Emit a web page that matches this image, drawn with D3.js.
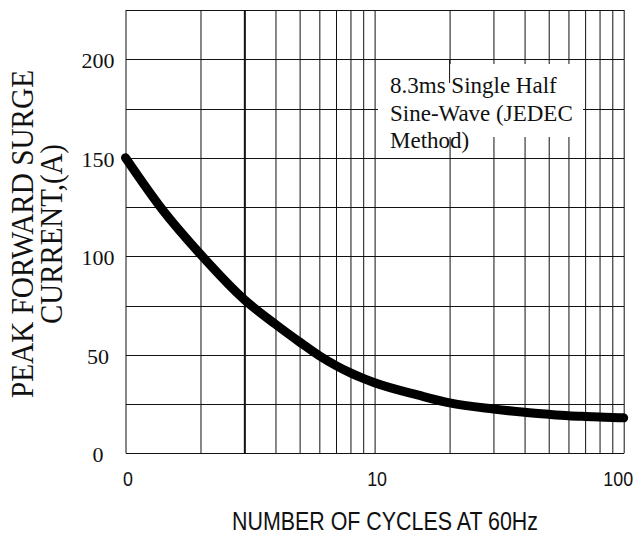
<!DOCTYPE html>
<html><head><meta charset="utf-8">
<script src="https://cdn.jsdelivr.net/npm/d3@7"></script>
<style>html,body{margin:0;padding:0;background:#fff;} svg{display:block;}</style>
</head><body>
<svg id="chart" width="638" height="540"></svg>
<script>
// ---- data ----
const cycles  = [1, 1.4, 2, 3, 4, 5, 6, 7, 8, 9, 10, 15, 20, 30, 40, 50, 60, 70, 80, 90, 100];
const current = [150, 124, 101, 78, 65.5, 56.5, 49.5, 44.5, 40.8, 38, 35.8, 29.5, 25.6, 22.5, 20.8, 19.8, 19.1, 18.7, 18.4, 18.2, 18];
const xTickValues = [1, 10, 100];
const xTickLabels = ["0", "10", "100"];
const yTickValues = [0, 50, 100, 150, 200];
const yTickLabels = ["0", "50", "100", "150", "200"];
const xGridValues = [1,2,3,4,5,6,7,8,9,10,20,30,40,50,60,70,80,90,100];
const yGridValues = [0,25,50,75,100,125,150,175,200,225];
const yTitleLines = ["PEAK FORWARD SURGE", "CURRENT,(A)"];
const xTitle = "NUMBER OF CYCLES AT 60Hz";
const noteLines = ["8.3ms Single Half", "Sine-Wave (JEDEC", "Method)"];

// ---- layout ----
const L = 125.5, R = 623.7, T = 10, B = 453.3;
const svg = d3.select("#chart");
const x = d3.scaleLog().domain([1, 100]).range([L, R]);
const y = d3.scaleLinear().domain([0, 225]).range([B, T]);
const serif = "'Liberation Serif','Times New Roman',serif";
const sans = "'Liberation Sans',Arial,sans-serif";

// vertical grid
const vg = svg.append("g").attr("transform", `translate(0,${B})`)
  .call(d3.axisBottom(x).tickValues(xGridValues).tickSize(-(B - T)).tickFormat(""));
vg.select(".domain").remove();
vg.selectAll(".tick line").attr("stroke", "#111")
  .attr("stroke-width", d => d === 3 ? 2 : 1);

// horizontal grid
const hg = svg.append("g").attr("transform", `translate(${L},0)`)
  .call(d3.axisLeft(y).tickValues(yGridValues).tickSize(-(R - L)).tickFormat(""));
hg.select(".domain").remove();
hg.selectAll(".tick line").attr("stroke", "#111").attr("stroke-width", 1)
  .attr("shape-rendering", "crispEdges");

// note box (white background)
svg.append("rect").attr("x", 378).attr("y", 64).attr("width", 205).attr("height", 73).attr("fill", "#fff");
svg.append("line").attr("x1", x(20)).attr("x2", x(20)).attr("y1", y(200)).attr("y2", 83)
  .attr("stroke", "#111").attr("stroke-width", 1);
const note = svg.append("text").attr("font-family", serif).attr("font-size", 23).attr("fill", "#111");
noteLines.forEach((t, i) => {
  note.append("tspan").attr("x", 390).attr("y", 93 + i * 27.5).text(t);
});

// curve
const pts = cycles.map((c, i) => [c, current[i]]);
svg.append("path").datum(pts)
  .attr("fill", "none").attr("stroke", "#000").attr("stroke-width", 9)
  .attr("stroke-linecap", "round").attr("stroke-linejoin", "round")
  .attr("d", d3.line().x(d => x(d[0])).y(d => y(d[1])).curve(d3.curveMonotoneX));

// y tick labels
const ya = svg.append("g").attr("transform", `translate(${L},0)`)
  .call(d3.axisLeft(y).tickValues(yTickValues).tickSize(0)
    .tickFormat((d, i) => yTickLabels[i]));
ya.select(".domain").remove();
ya.selectAll("text").attr("font-family", serif).attr("font-size", 22).attr("fill", "#111")
  .attr("text-anchor", "middle").attr("x", 98 - L).attr("dy", "0.38em");

// x tick labels
const xa = svg.append("g").attr("transform", `translate(0,${B})`)
  .call(d3.axisBottom(x).tickValues(xTickValues).tickSize(0)
    .tickFormat((d, i) => xTickLabels[i]));
xa.select(".domain").remove();
xa.selectAll("text").attr("font-family", sans).attr("font-size", 21).attr("fill", "#111")
  .attr("y", 486 - B).attr("dy", 0)
  .attr("dx", d => d === 100 ? -6 : 2)
  .each(function () {
    const w = this.getComputedTextLength();
    d3.select(this).attr("textLength", w * 0.85).attr("lengthAdjust", "spacingAndGlyphs");
  });

// x title
const xt = svg.append("text").attr("x", 385).attr("y", 530).attr("text-anchor", "middle")
  .attr("font-family", sans).attr("font-size", 26).attr("fill", "#111").text(xTitle);
xt.attr("textLength", 306).attr("lengthAdjust", "spacingAndGlyphs");

// y title
const yLen = [328, 180];
[33, 62].forEach((bx, i) => {
  svg.append("text").attr("transform", `translate(${bx},234) rotate(-90)`)
    .attr("text-anchor", "middle").attr("font-family", serif).attr("font-size", 31)
    .attr("fill", "#111").attr("textLength", yLen[i]).attr("lengthAdjust", "spacingAndGlyphs")
    .text(yTitleLines[i]);
});
</script>
</body></html>
